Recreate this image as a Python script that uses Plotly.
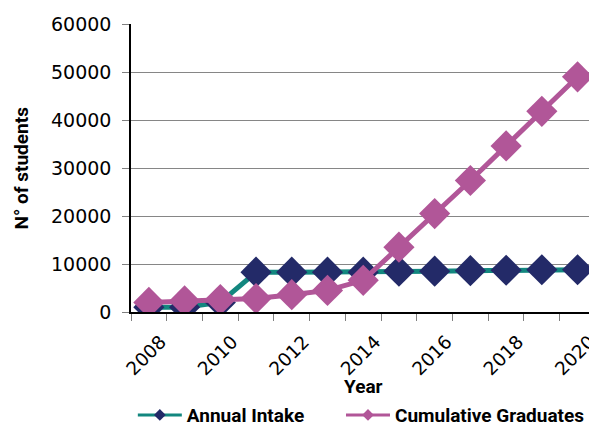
import plotly.graph_objects as go

years = [2008, 2009, 2010, 2011, 2012, 2013, 2014, 2015, 2016, 2017, 2018, 2019, 2020]
annual_intake = [1000, 1000, 2000, 8300, 8300, 8300, 8300, 8500, 8500, 8600, 8700, 8800, 8800]
cumulative_graduates = [2000, 2300, 2600, 2800, 3600, 4500, 6600, 13500, 20500, 27400, 34600, 41800, 49000]
series_names = ["Annual Intake", "Cumulative Graduates"]

teal = "#13877f"
navy = "#232a68"
pink = "#b15698"

fig = go.Figure()

# data traces (big diamonds), legend drawn by the small-marker traces below
fig.add_trace(go.Scatter(
    x=years, y=annual_intake, mode="lines+markers", showlegend=False,
    line=dict(color=teal, width=5),
    marker=dict(symbol="diamond", size=24, color=navy),
))
fig.add_trace(go.Scatter(
    x=years, y=cumulative_graduates, mode="lines+markers", showlegend=False,
    line=dict(color=pink, width=5),
    marker=dict(symbol="diamond", size=24, color=pink),
))
for name, lc, mc, lg in [(series_names[0], teal, navy, "legend"),
                         (series_names[1], pink, pink, "legend2")]:
    fig.add_trace(go.Scatter(
        x=[None], y=[None], mode="lines+markers", name=name, legend=lg,
        line=dict(color=lc, width=3),
        marker=dict(symbol="diamond", size=9, color=mc),
    ))

legend_font = dict(family="Roboto", size=19, color="black", weight="bold")

fig.update_layout(
    width=589, height=426,
    margin=dict(l=131, r=0, t=24, b=114, autoexpand=False),
    paper_bgcolor="white", plot_bgcolor="white",
    font=dict(family="DejaVu Sans", color="black"),
    showlegend=True,
    legend=dict(orientation="h", x=0.004, xanchor="left", y=-0.358, yanchor="middle",
                font=legend_font, bgcolor="rgba(0,0,0,0)", itemwidth=44),
    legend2=dict(orientation="h", x=0.4585, xanchor="left", y=-0.358, yanchor="middle",
                 font=legend_font, bgcolor="rgba(0,0,0,0)", itemwidth=44),
)

fig.update_xaxes(
    range=[2007.5, 2020.32],
    tickmode="array", tickvals=years[::2], ticktext=[str(y) for y in years[::2]],
    tickangle=-45, ticks="outside", ticklen=0, ticklabelshift=12,
    ticklabelstandoff=10, ticklabeloverflow="allow",
    tickfont=dict(size=18.5),
    minor=dict(tickmode="array", tickvals=[y - 0.5 for y in years] + [years[-1] + 0.5],
               ticks="outside", ticklen=7, tickcolor="#808080", showgrid=False),
    showgrid=False, zeroline=False,
    showline=True, linecolor="black", linewidth=1.5,
)
fig.update_yaxes(
    range=[0, 60000], dtick=10000, tickformat="d",
    ticks="outside", ticklen=7, tickcolor="#808080", ticklabelstandoff=7,
    tickfont=dict(size=19),
    showgrid=True, gridcolor="#868686", gridwidth=1,
    zeroline=False,
    showline=True, linecolor="black", linewidth=1.5,
)

fig.add_annotation(
    text="<b>N° of students</b>", xref="paper", yref="paper", x=0, y=0.5,
    xshift=-124, textangle=-90, showarrow=False,
    font=dict(family="Roboto", size=19, color="black"),
)
fig.add_annotation(
    text="<b>Year</b>", xref="x", yref="paper", x=2014, y=0, yshift=-88,
    showarrow=False, font=dict(family="Roboto", size=19, color="black"),
)

fig.write_html("out.html")
